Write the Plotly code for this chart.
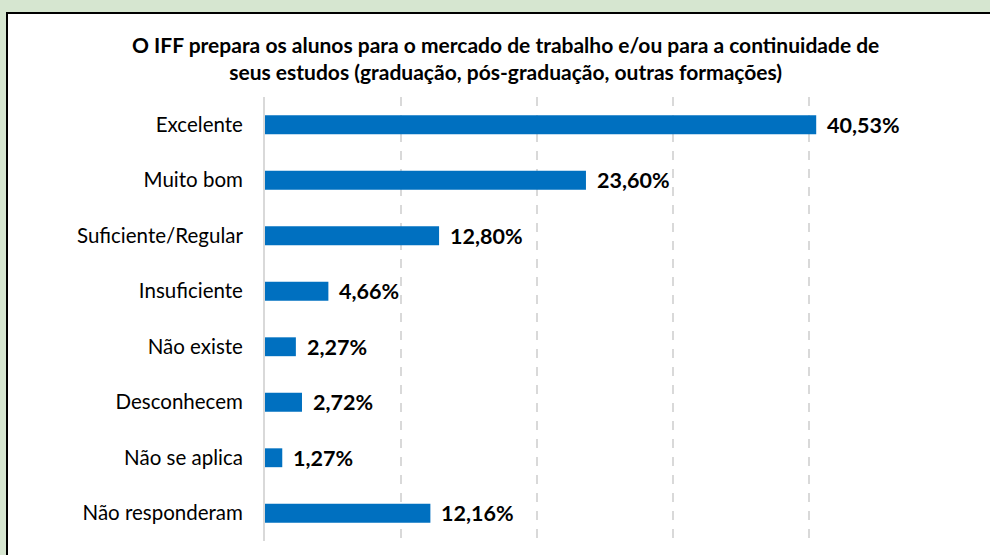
import plotly.graph_objects as go

categories = ["Excelente", "Muito bom", "Suficiente/Regular", "Insuficiente",
              "Não existe", "Desconhecem", "Não se aplica", "Não responderam"]
values = [40.53, 23.60, 12.80, 4.66, 2.27, 2.72, 1.27, 12.16]
labels = ["40,53%", "23,60%", "12,80%", "4,66%", "2,27%", "2,72%", "1,27%", "12,16%"]
title_text = ("O IFF prepara os alunos para o mercado de trabalho e/ou para a continuidade de<br>"
              "seus estudos (graduação, pós-graduação, outras formações)")

FONT = "Lato"
W, H = 990, 555
L, R, T, B = 265, 45, 97, 14
pw, ph = W - L - R, H - T - B

fig = go.Figure()
fig.add_trace(go.Bar(
    x=values, y=categories, orientation="h",
    marker=dict(color="#0070C0", line=dict(width=0)),
    width=0.34, hoverinfo="skip",
))

for v, c, t in zip(values, categories, labels):
    fig.add_annotation(x=v, y=c, text="<b>" + t + "</b>", showarrow=False,
                       xanchor="left", yanchor="middle", xshift=9, yshift=0,
                       font=dict(family=FONT, size=21.5, color="#000000"))

def px_x(p):
    return (p - L) / pw

def px_y(p):
    return (H - B - p) / ph

fig.add_shape(type="rect", xref="paper", yref="paper",
              x0=px_x(7), x1=px_x(1100), y0=px_y(13), y1=px_y(700),
              fillcolor="#ffffff", line=dict(color="#000000", width=2), layer="below")

fig.add_annotation(text="<b>" + title_text + "</b>", xref="paper", yref="paper",
                   x=px_x(505), y=px_y(58), xanchor="center", yanchor="middle",
                   showarrow=False, align="center",
                   font=dict(family=FONT, size=21, color="#000000"))

fig.update_layout(
    width=W, height=H,
    margin=dict(l=L, r=R, t=T, b=B, pad=0),
    paper_bgcolor="#d6e6d0",
    plot_bgcolor="rgba(0,0,0,0)",
    showlegend=False,
    xaxis=dict(range=[0, 50], tickvals=[0, 10, 20, 30, 40, 50], showticklabels=False,
               showgrid=True, gridcolor="#d9d9d9", griddash="dash", gridwidth=1.5,
               zeroline=False, showline=False, fixedrange=True),
    yaxis=dict(autorange="reversed", showgrid=False, showline=True, linecolor="#d9d9d9",
               linewidth=2, ticks="", ticklabelstandoff=16,
               tickfont=dict(family=FONT, size=20.5, color="#000000"), fixedrange=True),
)

fig.write_html("out.html", config={"displayModeBar": False},
               post_script="document.body.style.margin='0';document.body.style.overflow='hidden';")
